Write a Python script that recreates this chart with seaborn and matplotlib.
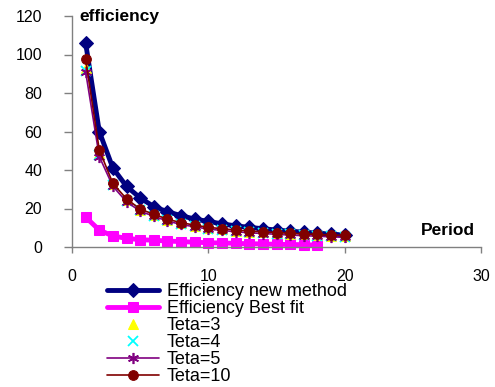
import matplotlib
matplotlib.use('Agg')
import matplotlib.pyplot as plt
import seaborn as sns

periods = list(range(1, 21))
periods_fit = list(range(1, 19))
new_method = [106, 60, 41, 31.5, 25.5, 21, 18.3, 16.3, 14.5, 13.3, 12, 11, 10.2, 9.5, 8.8, 8.2, 7.7, 7.2, 6.7, 6.2]
best_fit = [15.5, 8.8, 5.7, 4.5, 3.8, 3.5, 3.1, 2.8, 2.5, 2.2, 2.1, 1.9, 1.7, 1.6, 1.4, 1.3, 1.2, 1.0]
teta3 = [93, 49, 32.5, 24.5, 19.3, 16.6, 14.1, 12.3, 11.1, 9.9, 9.2, 8.5, 8.0, 7.6, 7.2, 6.8, 6.5, 6.2, 5.9, 5.7]
teta4 = [91.5, 48, 32, 24, 19, 16.3, 13.8, 12.0, 10.8, 9.6, 8.9, 8.2, 7.7, 7.3, 6.9, 6.5, 6.2, 5.9, 5.6, 5.4]
teta5 = [91, 47, 31.5, 23.5, 18.6, 16, 13.5, 11.7, 10.5, 9.3, 8.6, 7.9, 7.4, 7.0, 6.6, 6.2, 5.9, 5.6, 5.3, 5.0]
teta10 = [97.5, 50.5, 33, 25, 19.7, 17, 14.5, 12.6, 11.4, 10.2, 9.5, 8.8, 8.3, 7.9, 7.5, 7.1, 6.8, 6.5, 6.2, 6.0]
labels = ["Efficiency new method", "Efficiency Best fit", "Teta=3", "Teta=4", "Teta=5", "Teta=10"]
xticks = [0, 10, 20, 30]
yticks = [0, 20, 40, 60, 80, 100, 120]

sns.set_style('ticks')
plt.rcParams['font.family'] = ['Liberation Sans', 'DejaVu Sans']
plt.rcParams['text.color'] = 'black'
plt.rcParams['xtick.labelcolor'] = 'black'
plt.rcParams['ytick.labelcolor'] = 'black'

W, H = 495, 387
fig = plt.figure(figsize=(W / 100, H / 100), dpi=100)
ax = fig.add_axes([72 / W, 1 - 247 / H, (481 - 72) / W, (247 - 16) / H])

sns.lineplot(x=periods, y=new_method, ax=ax, color='#000080', linewidth=3.5, marker='D',
             markersize=7, markeredgecolor='#000080', label=labels[0], clip_on=False)
sns.lineplot(x=periods_fit, y=best_fit, ax=ax, color='#FF00FF', linewidth=3.5, marker='s',
             markersize=7, markeredgecolor='#FF00FF', label=labels[1], clip_on=False)
sns.lineplot(x=periods, y=teta3, ax=ax, color='#FFFF00', linestyle='', marker='^',
             markersize=7, markeredgecolor='#FFFF00', label=labels[2], clip_on=False)
sns.lineplot(x=periods, y=teta4, ax=ax, color='#00FFFF', linestyle='', marker='x',
             markersize=7, markeredgewidth=1.3, markeredgecolor='#00FFFF', label=labels[3], clip_on=False)
sns.lineplot(x=periods, y=teta5, ax=ax, color='#800080', linewidth=1.2, marker=(6, 2, 0),
             markersize=8, markeredgewidth=1.2, markeredgecolor='#800080', label=labels[4], clip_on=False)
sns.lineplot(x=periods, y=teta10, ax=ax, color='#800000', linewidth=1.2, marker='o',
             markersize=7, markeredgecolor='#800000', label=labels[5], clip_on=False)

ax.set_xlim(0, 30)
ax.set_ylim(0, 120)
ax.set_xticks(xticks)
ax.set_yticks(yticks)
ax.set_xlabel('')
ax.set_ylabel('')
for s in ['top', 'right']:
    ax.spines[s].set_visible(False)
for s in ['left', 'bottom']:
    ax.spines[s].set_color('#808080')
    ax.spines[s].set_linewidth(1)
ax.tick_params(axis='x', direction='out', length=4, width=1, color='#808080', pad=11.5,
               labelsize=11.5, labelcolor='black')
ax.tick_params(axis='y', direction='out', length=6, width=1, color='#808080', pad=15.5,
               labelsize=11.5, labelcolor='black')

handles, labs = ax.get_legend_handles_labels()
if ax.get_legend() is not None:
    ax.get_legend().remove()
fig.legend(handles, labs, loc='upper left', bbox_to_anchor=(107 / W, 1 - 283 / H),
           frameon=False, fontsize=13, handlelength=2.9, handletextpad=0.4,
           labelspacing=0.0, borderpad=0, borderaxespad=0)

fig.text(79 / W, 1 - 16 / H, 'efficiency', fontweight='bold', fontsize=12.5, va='center', ha='left')
fig.text(421 / W, 1 - 230.5 / H, 'Period', fontweight='bold', fontsize=12.5, va='center', ha='left')

fig.savefig('out.png', dpi=100)
